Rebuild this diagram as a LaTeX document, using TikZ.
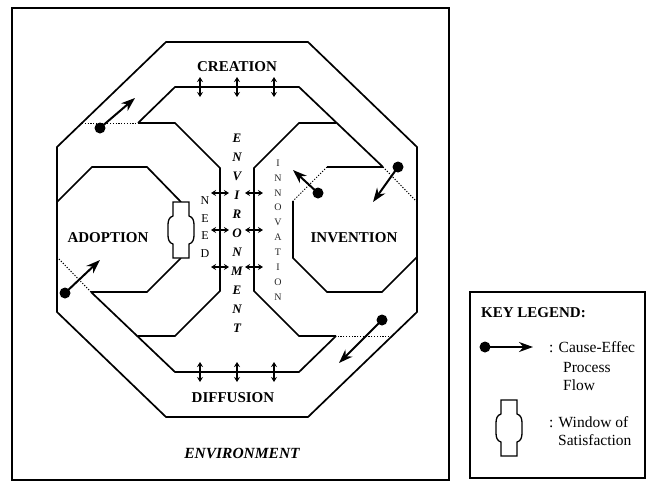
\documentclass[tikz,border=0pt]{standalone}
\usepackage{fontspec}
\setmainfont{Liberation Serif}
\usetikzlibrary{arrows.meta}
\tikzset{
  winsym/.pic={
    \draw[line width=1.3pt, fill=white] (-8,-28) -- (8,-28) -- (8,-14)
      .. controls (12,-13) and (13,-9) .. (13,-5) -- (13,5)
      .. controls (13,9) and (12,13) .. (8,14) -- (8,28) -- (-8,28) -- (-8,14)
      .. controls (-12,13) and (-13,9) .. (-13,5) -- (-13,-5)
      .. controls (-13,-9) and (-12,-13) .. (-8,-14) -- cycle;
  }
}
\begin{document}
\begin{tikzpicture}[x=1pt,y=-1pt,
  wall/.style={line width=1.7pt, line join=miter},
  dotline/.style={line width=1pt, dash pattern=on 1.2pt off 1.6pt},
  cause/.style={line width=2pt, -{Stealth[length=14pt,width=10pt]}},
  blob/.style={circle, fill=black, inner sep=0pt, minimum size=11pt},
  link/.style={line width=1.2pt, {Stealth[length=5pt,width=6pt]}-{Stealth[length=5pt,width=6pt]}},
  lab/.style={font=\bfseries\fontsize{15}{18}\selectfont, inner sep=0pt},
  legtext/.style={font=\fontsize{15.5}{18}\selectfont, anchor=west, inner sep=0pt},
]
\useasboundingbox (0,0) rectangle (647,483);

% main frame
\draw[line width=2.8pt] (12,8) rectangle (449,480);

% outer octagon
\draw[wall] (166,42) -- (308,42) -- (417,147) -- (417,312) -- (308,417) -- (166,417) -- (57,312) -- (57,147) -- cycle;

% top band inner line
\draw[wall] (138,123) -- (175,87) -- (299,87) -- (383,167);
\draw[dotline] (383,167) -- (417,202);
\draw[dotline] (82,123) -- (138,123);
% bottom band inner line
\draw[wall] (336,336) -- (299,372) -- (175,372) -- (91,292);
\draw[dotline] (91,292) -- (57,257);
\draw[dotline] (392,336) -- (336,336);

% corridor walls
\draw[wall] (138,123) -- (175,123) -- (220,168) -- (220,291) -- (175,336) -- (138,336);
\draw[wall] (336,336) -- (299,336) -- (254,291) -- (254,168) -- (299,123) -- (336,123);

% ADOPTION chamber
\draw[wall] (57,202) -- (92,167) -- (147,167) -- (181,202);
\draw[wall] (181,258) -- (147,292) -- (91,292);
\pic at (181,230) {winsym};
% INVENTION chamber
\draw[wall] (417,257) -- (382,292) -- (327,292) -- (293,258) -- (293,201);
\draw[wall] (327,167) -- (383,167);
\draw[dotline] (327,167) -- (293,201);

% corridor links
\foreach \yy in {193,230,267}{
  \draw[link] (211,\yy) -- (229,\yy);
  \draw[link] (245,\yy) -- (263,\yy);
}
% band links
\foreach \xx in {200,237,274}{
  \draw[link] (\xx,77) -- (\xx,97);
  \draw[link] (\xx,362) -- (\xx,382);
}

% cause-effect arrows
\node[blob] (b1) at (100,128) {};
\coordinate (t1) at (135,98);
\draw[cause] (b1.center) -- (t1);
\node[blob] (b2) at (65,293) {};
\coordinate (t2) at (100,260);
\draw[cause] (b2.center) -- (t2);
\node[blob] (b3) at (318,193) {};
\coordinate (t3) at (293,170);
\draw[cause] (b3.center) -- (t3);
\node[blob] (b4) at (398,167) {};
\coordinate (t4) at (373,202);
\draw[cause] (b4.center) -- (t4);
\node[blob] (b5) at (382,320) {};
\coordinate (t5) at (339,363);
\draw[cause] (b5.center) -- (t5);

% labels
\node[lab] (creation) at (237,67) {CREATION};
\node[lab] (adoption) at (108,238) {ADOPTION};
\node[lab] (invention) at (354,238) {INVENTION};
\node[lab] (diffusion) at (233,398) {DIFFUSION};
\node[lab, font=\bfseries\itshape\fontsize{15.5}{18}\selectfont] (envbottom) at (242,453) {ENVIRONMENT};
\node[align=center, inner sep=0pt, font=\bfseries\itshape\fontsize{13}{19}\selectfont] (envv) at (237,233) {E\\N\\V\\I\\R\\O\\N\\M\\E\\N\\T};
\node[align=center, inner sep=0pt, font=\fontsize{12}{17.7}\selectfont] (need) at (205,227) {N\\E\\E\\D};
\node[align=center, inner sep=0pt, text=black!85, font=\fontsize{10}{14.9}\selectfont] (innov) at (278,230) {I\\N\\N\\O\\V\\A\\T\\I\\O\\N};

% legend
\draw[line width=1.6pt] (470,292) rectangle (645,478);
\node[anchor=west, inner sep=0pt, font=\bfseries\fontsize{15}{18}\selectfont] (key) at (481,313) {KEY LEGEND:};
\node[blob] (lb) at (485,347) {};
\coordinate (lt) at (533,347);
\draw[cause] (lb.center) -- (lt);
\node[legtext] (l1) at (549,347) {: Cause-Effec};
\node[legtext] (l2) at (563,367) {Process};
\node[legtext] (l3) at (563,385) {Flow};
\pic at (509,428) {winsym};
\node[legtext] (l4) at (549,422) {: Window of};
\node[legtext] (l5) at (558,440) {Satisfaction};
\end{tikzpicture}
\end{document}
